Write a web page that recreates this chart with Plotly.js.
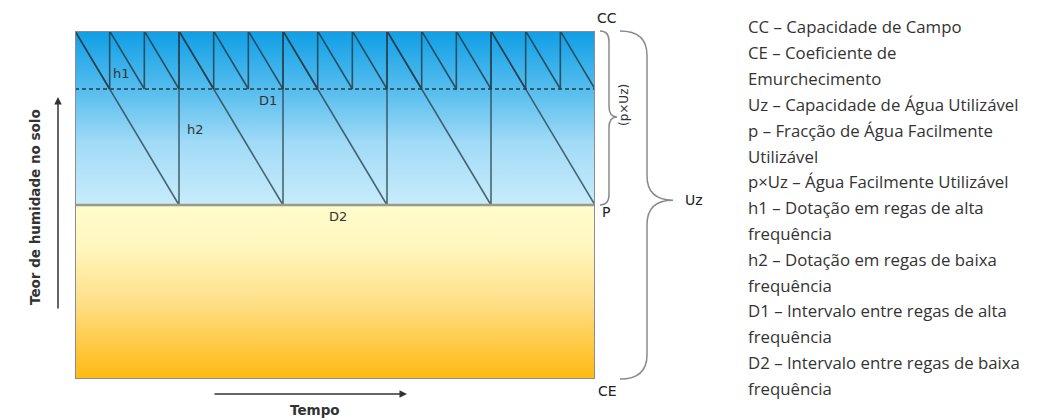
<!DOCTYPE html>
<html>
<head>
<meta charset="utf-8">
<script src="https://cdn.plot.ly/plotly-3.0.1.min.js"></script>
<style>html,body{margin:0;padding:0;background:#fff;}#chart{width:1042px;height:420px;}</style>
</head>
<body>
<div id="chart"></div>
<script>
// Soil moisture levels (fraction of the total, CE = 0, CC = 1)
const levelNames = ['CC', 'P', 'CE'];
const levelValues = [1.0, 0.5, 0.0];
const highFreqThreshold = 0.8333;          // level reached between high-frequency irrigations
const timeRange = [0, 15];                  // time span, in units of D1

// High-frequency irrigation (interval D1, dose h1)
const highFreqTime = [0, 1, 1, 2, 2, 3, 3, 4, 4, 5, 5, 6, 6, 7, 7, 8, 8, 9, 9, 10, 10, 11, 11, 12, 12, 13, 13, 14, 14, 15];
const highFreqMoisture = [1, 0.8333, 1, 0.8333, 1, 0.8333, 1, 0.8333, 1, 0.8333, 1, 0.8333, 1, 0.8333, 1, 0.8333, 1, 0.8333, 1, 0.8333, 1, 0.8333, 1, 0.8333, 1, 0.8333, 1, 0.8333, 1, 0.8333];

// Low-frequency irrigation (interval D2, dose h2)
const lowFreqTime = [0, 3, 3, 6, 6, 9, 9, 12, 12, 15];
const lowFreqMoisture = [1, 0.5, 1, 0.5, 1, 0.5, 1, 0.5, 1, 0.5];

// Inner labels
const innerLabels = ['h1', 'h2', 'D1', 'D2'];
const innerLabelX = [1.33, 3.49, 5.57, 7.59];
const innerLabelY = [0.879, 0.716, 0.799, 0.466];

// Legend text (right side)
const legendLines = [
  'CC – Capacidade de Campo',
  'CE – Coeficiente de',
  'Emurchecimento',
  'Uz – Capacidade de Água Utilizável',
  'p – Fracção de Água Facilmente',
  'Utilizável',
  'p×Uz – Água Facilmente Utilizável',
  'h1 – Dotação em regas de alta',
  'frequência',
  'h2 – Dotação em regas de baixa',
  'frequência',
  'D1 – Intervalo entre regas de alta',
  'frequência',
  'D2 – Intervalo entre regas de baixa',
  'frequência'
];

const W = 1042, H = 420;
const M = {l: 75, r: 447, t: 31, b: 41};
const PW = W - M.l - M.r, PH = H - M.t - M.b;
const px2x = p => (p - M.l) / PW;        // pixel -> paper x
const py2y = p => (H - M.b - p) / PH;    // pixel -> paper y

const CC = levelValues[0], P = levelValues[1], CE = levelValues[2];
const t0 = timeRange[0], t1 = timeRange[1];

const lineCol = 'rgba(38,62,76,0.85)';
const traces = [
  { // lower (yellow -> orange) zone
    x: [t0, t1, t1, t0, t0], y: [CE, CE, P, P, CE],
    mode: 'lines', line: {width: 0}, fill: 'toself',
    fillgradient: {type: 'vertical', start: CE, stop: P,
      colorscale: [[0, '#ffbb12'], [0.12, '#ffc330'], [0.45, '#fee08a'], [0.75, '#fff6bd'], [1, '#fffccd']]},
    hoverinfo: 'skip'
  },
  { // upper (blue) zone
    x: [t0, t1, t1, t0, t0], y: [P, P, CC, CC, P],
    mode: 'lines', line: {width: 0}, fill: 'toself',
    fillgradient: {type: 'vertical', start: P, stop: CC,
      colorscale: [[0, '#c8ecfb'], [0.35, '#a2dbf7'], [0.66, '#56bdee'], [1, '#0f9fe5']]},
    hoverinfo: 'skip'
  },
  { // dashed threshold
    x: [t0, t1], y: [highFreqThreshold, highFreqThreshold],
    mode: 'lines', line: {color: '#2a3a44', width: 1.4, dash: '4px,3px'}, hoverinfo: 'skip'
  },
  { // low-frequency sawtooth
    x: lowFreqTime, y: lowFreqMoisture, mode: 'lines',
    line: {color: 'rgba(45,70,82,0.8)', width: 1.6}, hoverinfo: 'skip'
  },
  { // high-frequency sawtooth
    x: highFreqTime, y: highFreqMoisture, mode: 'lines',
    line: {color: lineCol, width: 1.6}, hoverinfo: 'skip'
  }
];

function brace(xl, xb, xt, yTop, yBot, yTip, r) {
  return `M ${xl},${yTop} Q ${xb},${yTop} ${xb},${yTop - r} L ${xb},${yTip + r} Q ${xb},${yTip} ${xt},${yTip} ` +
         `Q ${xb},${yTip} ${xb},${yTip - r} L ${xb},${yBot + r} Q ${xb},${yBot} ${xl},${yBot}`;
}

const labelFont = {family: 'DejaVu Sans, sans-serif', size: 13, color: '#333'};
const levelFont = {family: 'DejaVu Sans, sans-serif', size: 14, color: '#222'};

const annotations = [];
function note(o) {
  annotations.push(Object.assign({xref: 'paper', yref: 'paper', xanchor: 'center', yanchor: 'middle', showarrow: false}, o));
}
innerLabels.forEach((t, i) => note({x: innerLabelX[i], y: innerLabelY[i], xref: 'x', yref: 'y', text: t, font: labelFont}));
// Level labels
note({x: px2x(607), y: CC, yshift: 13, text: levelNames[0], font: levelFont});
note({x: px2x(606), y: P, yshift: -7, text: levelNames[1], font: levelFont});
note({x: px2x(607), y: CE, yshift: -12, text: levelNames[2], font: levelFont});
note({x: px2x(694), y: 0.514, text: 'Uz', font: levelFont});
note({x: px2x(624), y: py2y(105), text: '(p×Uz)', textangle: -90,
  font: {family: 'DejaVu Sans, sans-serif', size: 12, color: '#333'}});
// Axis titles and arrows
note({x: px2x(35), y: py2y(207), text: '<b>Teor de humidade no solo</b>', textangle: -90,
  font: {family: 'DejaVu Sans, sans-serif', size: 13.5, color: '#333'}});
note({x: px2x(58), y: py2y(97), text: '', showarrow: true, ax: 0, ay: 213,
  arrowhead: 2, arrowsize: 1, arrowwidth: 1.5, arrowcolor: '#333'});
note({x: px2x(407), y: py2y(394), text: '', showarrow: true, ax: -194, ay: 0,
  arrowhead: 2, arrowsize: 1, arrowwidth: 1.5, arrowcolor: '#333'});
note({x: px2x(315), y: py2y(410), text: '<b>Tempo</b>',
  font: {family: 'DejaVu Sans, sans-serif', size: 13.5, color: '#333'}});
// Legend text
legendLines.forEach((t, i) => note({
  x: px2x(746), y: py2y(27 + 25.8 * i), xanchor: 'left',
  text: t, font: {family: 'Open Sans, sans-serif', size: 16.8, color: '#333'}
}));

const shapes = [
  {type: 'path', xref: 'paper', yref: 'paper', path: brace(px2x(600), px2x(609), px2x(617), CC, P, py2y(117), 0.03),
   line: {color: '#8a8a8a', width: 1.5}},
  {type: 'path', xref: 'paper', yref: 'paper', path: brace(px2x(620), px2x(647), px2x(673), CC, CE, 0.514, 0.07),
   line: {color: '#8a8a8a', width: 1.5}},
  {type: 'line', xref: 'x', yref: 'y', x0: t0, x1: t1, y0: P, y1: P, line: {color: '#9a9a8c', width: 2.5}},
  {type: 'rect', xref: 'x', yref: 'y', x0: t0, x1: t1, y0: CE, y1: CC, line: {color: '#8c8c8c', width: 2}}
];

const layout = {
  width: W, height: H, margin: M, showlegend: false, hovermode: false,
  paper_bgcolor: '#fff', plot_bgcolor: '#fff',
  xaxis: {range: timeRange, showgrid: false, zeroline: false, showticklabels: false, ticks: '', showline: false, fixedrange: true},
  yaxis: {range: [CE, CC], showgrid: false, zeroline: false, showticklabels: false, ticks: '', showline: false, fixedrange: true},
  annotations: annotations, shapes: shapes
};

Plotly.newPlot('chart', traces, layout, {staticPlot: true, displayModeBar: false});
</script>
</body>
</html>
